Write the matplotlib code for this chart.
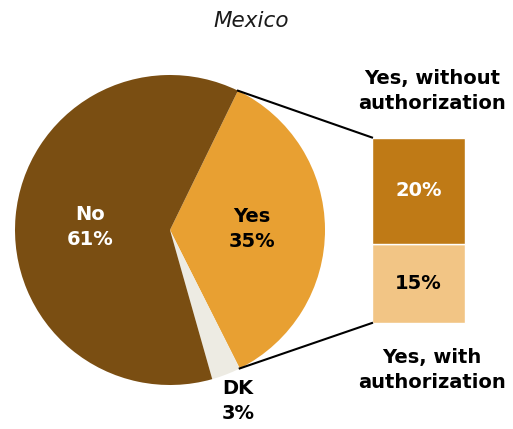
import numpy as np
import matplotlib.pyplot as plt

# pie: share of respondents
pie_labels = ['Yes', 'DK', 'No']
pie_values = [35, 3, 61]
pie_colors = ['#E8A032', '#EDEBE3', '#7A4E12']

# breakdown of the "Yes" slice
bar_labels = ['Yes, with\nauthorization', 'Yes, without\nauthorization']
bar_values = [15, 20]
bar_colors = ['#F2C585', '#BF7A16']

W, H = 513, 429
fig = plt.figure(figsize=(W / 100, H / 100), dpi=100)
ax = fig.add_axes([0, 0, 1, 1])

cx, cy, r = 170, 199, 155
start = 64.0
wedges, _ = ax.pie(pie_values, colors=pie_colors, startangle=start, counterclock=False,
                   center=(cx, cy), radius=r, frame=True)
ax.set_xlim(0, W)
ax.set_ylim(0, H)
ax.set_aspect('equal')
ax.axis('off')

font = dict(family='DejaVu Sans', fontweight='bold', fontsize=14, linespacing=1.35)
ax.text(90, 202, 'No\n61%', color='white', ha='center', va='center', **font)
ax.text(252, 200, 'Yes\n35%', color='black', ha='center', va='center', **font)
ax.text(238, 28, 'DK\n3%', color='black', ha='center', va='center', **font)

# stacked bar for the Yes breakdown
bx, bw, base = 418.5, 93, 106
scale = 5.3
bottom = base
for v, c in zip(bar_values, bar_colors):
    ax.bar(bx, v * scale, width=bw, bottom=bottom, color=c, edgecolor='white', linewidth=1)
    ax.text(bx, bottom + v * scale / 2, f'{v}%', ha='center', va='center',
            color='white' if c == bar_colors[1] else 'black', **font)
    bottom += v * scale
top = bottom

# connector lines from the Yes wedge edges to the bar corners
a1 = np.radians(wedges[0].theta1)
a2 = np.radians(wedges[0].theta2)
for a, y in [(a2, top), (a1, base)]:
    ax.plot([cx + r * np.cos(a), bx - bw / 2], [cy + r * np.sin(a), y], color='black', lw=1.5)

ax.text(432, 338, bar_labels[1], ha='center', va='center', color='black', **font)
ax.text(432, 59, bar_labels[0], ha='center', va='center', color='black', **font)

ax.text(251, 408, 'Mexico', ha='center', va='center', fontsize=15.5, style='italic',
        family='DejaVu Sans', color='#1a1a1a')

fig.savefig('out.png', dpi=100)
